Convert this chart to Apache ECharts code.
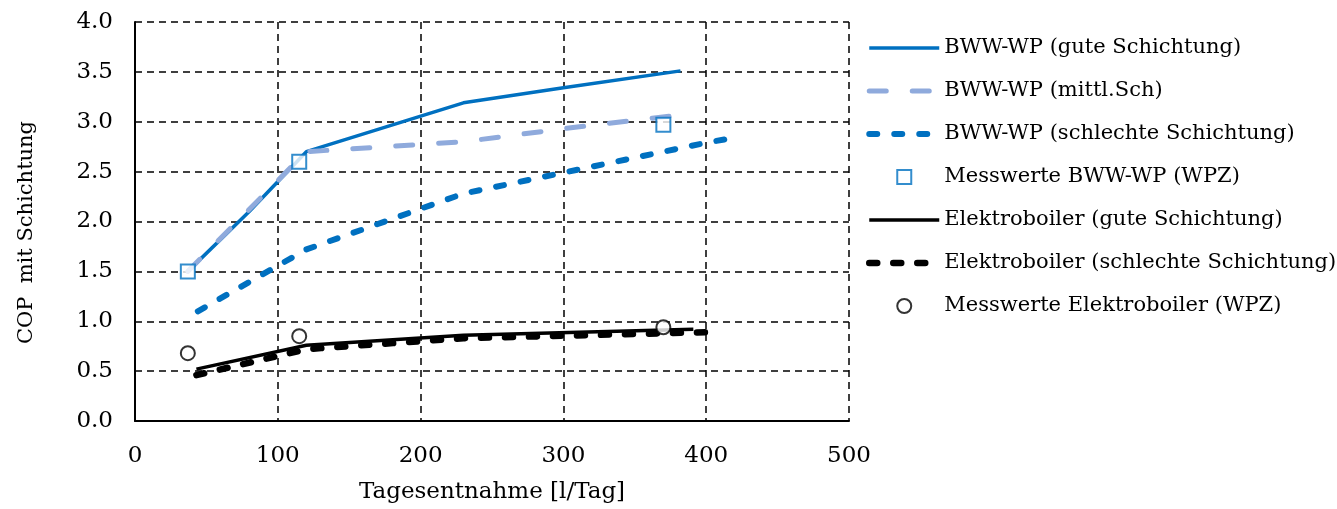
<!DOCTYPE html>
<html><head><meta charset="utf-8">
<script src="https://cdn.jsdelivr.net/npm/echarts@6/dist/echarts.min.js"></script>
<style>html,body{margin:0;padding:0;background:#fff}#c{width:1337px;height:509px}</style>
</head><body><div id="c"></div>
<script>
// Data (x = Tagesentnahme [l/Tag], y = COP)
const bwwGut = [[37,1.50],[80,2.10],[120,2.70],[230,3.19],[300,3.34],[382,3.51]];
const bwwMittl = [[37,1.50],[120,2.70],[230,2.80],[300,2.93],[389,3.08]];
const bwwSchlecht = [[44,1.10],[120,1.72],[230,2.28],[300,2.49],[400,2.79],[424,2.85]];
const bwwMess = [[37,1.50],[115,2.60],[370,2.97]];
const elGut = [[43,0.52],[120,0.76],[230,0.86],[391,0.92]];
const elSchlecht = [[43,0.46],[120,0.72],[230,0.83],[400,0.89]];
const elMess = [[37,0.68],[115,0.85],[370,0.94]];
const names = ['BWW-WP (gute Schichtung)','BWW-WP (mittl.Sch)','BWW-WP (schlechte Schichtung)','Messwerte BWW-WP (WPZ)','Elektroboiler (gute Schichtung)','Elektroboiler (schlechte Schichtung)','Messwerte Elektroboiler (WPZ)'];
const xName = 'Tagesentnahme [l/Tag]';
const yName = 'COP  mit Schichtung';

const FONT = 'DejaVu Serif';
const SQUARE = 'path://M0,0H10V10H0Z';
const chart = echarts.init(document.getElementById('c'));
const gridLine = {show:true, lineStyle:{color:'#000', width:1.5, type:[7,5]}};
const lineSeries = (name, data, color, width, dash) => ({
  name, type:'line', data, symbol:'circle', showSymbol:false,
  itemStyle:{color:'rgba(0,0,0,0)'},
  lineStyle:Object.assign({color, width}, dash ? {type:dash, cap:'round'} : {})
});
chart.setOption({
  animation:false,
  textStyle:{fontFamily:FONT},
  grid:{left:135, right:488, top:22, bottom:87},
  legend:{
    orient:'vertical', left:861, top:31, itemWidth:70, itemHeight:14, itemGap:19,
    symbolKeepAspect:true,
    lineStyle:{width:'inherit'},
    textStyle:{fontFamily:FONT, fontSize:21, color:'#000', lineHeight:24},
    data:names
  },
  xAxis:{
    type:'value', min:0, max:500, interval:100,
    name:xName, nameLocation:'middle', nameGap:60,
    nameTextStyle:{fontFamily:FONT, fontSize:23, color:'#000'},
    axisLine:{show:true, onZero:false, lineStyle:{color:'#000', width:2}},
    axisTick:{show:false},
    axisLabel:{fontFamily:FONT, fontSize:23, color:'#000', margin:24},
    splitLine:gridLine
  },
  yAxis:{
    type:'value', min:0, max:4, interval:0.5,
    name:yName, nameLocation:'middle', nameGap:98,
    nameTextStyle:{fontFamily:FONT, fontSize:21, color:'#000', padding:[0,22,0,0]},
    axisLine:{show:true, lineStyle:{color:'#000', width:2}},
    axisTick:{show:false},
    axisLabel:{fontFamily:FONT, fontSize:23, color:'#000', margin:22, formatter:v=>v.toFixed(1)},
    splitLine:gridLine
  },
  series:[
    lineSeries(names[0], bwwGut, '#0070C0', 3.5),
    lineSeries(names[1], bwwMittl, '#8FAADC', 5, [17,26]),
    lineSeries(names[2], bwwSchlecht, '#0070C0', 6, [8,17]),
    {name:names[3], type:'scatter', data:bwwMess, symbol:SQUARE, symbolSize:14, symbolKeepAspect:true, z:5,
     itemStyle:{color:'#fff', borderColor:'#0070C0', borderWidth:2}},
    lineSeries(names[4], elGut, '#000', 3.5),
    lineSeries(names[5], elSchlecht, '#000', 6.5, [8,16]),
    {name:names[6], type:'scatter', data:elMess, symbol:'circle', symbolSize:14, z:5,
     itemStyle:{color:'#fff', borderColor:'#000', borderWidth:2}}
  ]
});
</script></body></html>
